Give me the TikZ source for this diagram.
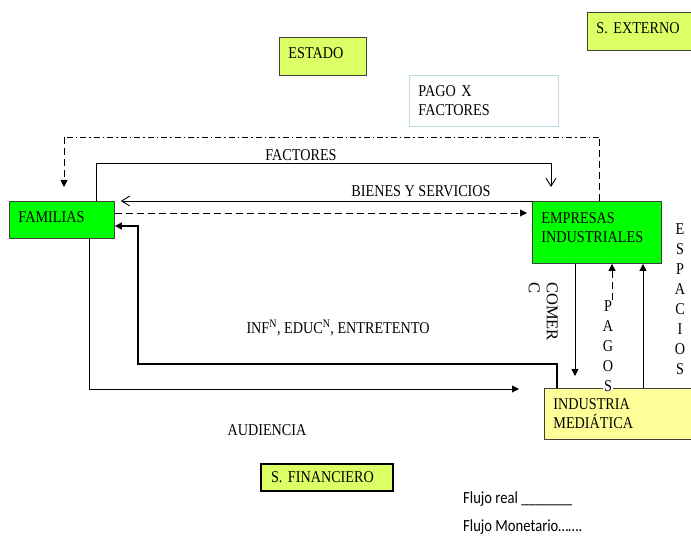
\documentclass[tikz,border=0pt]{standalone}
\usepackage{fontspec}
\setmainfont{Liberation Serif}[FakeStretch=0.86]
\newfontfamily\plainserif{Liberation Serif}
\newfontfamily\legfont{Carlito}[FakeStretch=0.86]
\usetikzlibrary{arrows.meta,calc}
\definecolor{grn}{HTML}{00FF00}
\definecolor{limey}{HTML}{DDFF66}
\definecolor{lyel}{HTML}{FFFF99}
\definecolor{lblue}{HTML}{BFDDE3}
\tikzset{
  every node/.style={font=\fontsize{16.5}{20}\selectfont},
  boxnode/.style={draw=black!75, line width=0.9pt, anchor=north west, inner xsep=9pt, inner ysep=2pt, align=left},
  realline/.style={line width=0.9pt},
  filltip/.style={-{Triangle[length=7pt,width=7pt]}},
  opentip/.style={-{Straight Barb[length=8pt,width=10pt,line width=0.9pt]}},
  dashline/.style={line width=0.9pt, dash pattern=on 7pt off 4pt},
  dashdotline/.style={line width=0.9pt, dash pattern=on 6pt off 3pt on 1.5pt off 3pt},
  stackletters/.style={align=center, inner sep=0pt},
  legendtext/.style={anchor=west, inner sep=0pt, font=\legfont\fontsize{17}{20}\selectfont}
}
\begin{document}
\begin{tikzpicture}[x=1pt,y=-1pt]
\useasboundingbox (0,0) rectangle (691,540);

% boxes
\node[boxnode, fill=grn, text width=87pt, minimum height=37pt] (fam) at (9,201) {FAMILIAS\\[-15pt]\mbox{}};
\node[boxnode, fill=grn, text width=111pt, minimum height=62pt] (emp) at (532,201) {EMPRESAS\\[-1pt]INDUSTRIALES\\[-10pt]\mbox{}};
\node[boxnode, fill=lyel, text width=142pt, minimum height=51pt] (med) at (544,388) {INDUSTRIA\\[-1pt]MEDIÁTICA};
\node[boxnode, fill=limey, text width=69pt, minimum height=38pt] (est) at (279,37) {ESTADO\\[-14pt]\mbox{}};
\node[boxnode, fill=limey, text width=92pt, minimum height=38pt] (ext) at (587,12) {S. EXTERNO\\[-14pt]\mbox{}};
\node[boxnode, draw=black, line width=2pt, fill=limey, inner xsep=10pt, text width=112pt, minimum height=27pt] (fin) at (260,463) {S. FINANCIERO};
\node[boxnode, draw=lblue, fill=white, text width=131pt, minimum height=51pt] (pago) at (409,75) {PAGO X\\[-1pt]FACTORES};

% monetary flow on top (dash-dot)
\coordinate (m1) at (599,137);
\coordinate (m2) at (64,137);
\draw[dashline] (m1 |- emp.north) -- (m1);
\draw[dashdotline] (m1) -- (m2);
\draw[dashline, filltip, shorten >=14pt] (m2) -- (m2 |- fam.north);

% FACTORES
\coordinate (f1) at (96,163);
\coordinate (f2) at (551,163);
\draw[realline, opentip, shorten >=14pt] (fam.north -| f1) -- (f1) -- (f2) -- (f2 |- emp.north);
\node (lfac) at (301,155) {FACTORES};

% BIENES Y SERVICIOS
\draw[realline, opentip, shorten >=6pt] (emp.north west) -- (fam.north east);
\node (lbien) at (421,191) {BIENES Y SERVICIOS};

% dashed monetary fam -> emp
\coordinate (d) at (0,213);
\draw[dashline, filltip, shorten >=5pt] (fam.east |- d) -- (emp.west |- d);

% INF, EDUC, ENTRETENTO
\coordinate (i1) at (557,364);
\coordinate (i2) at (138,364);
\coordinate (i3) at (138,226);
\draw[line width=1.35pt, -{Triangle[length=7pt,width=7pt]}] (med.north -| i1) -- (i1) -- (i2) -- (i3) -- (fam.east |- i3);
\node (linf) at (338,328) {INF\textsuperscript{N}, EDUC\textsuperscript{N}, ENTRETENTO};

% AUDIENCIA
\coordinate (a1) at (89,389);
\coordinate (a2) at (519,389);
\draw[realline, filltip] (fam.south -| a1) -- (a1) -- (a2);
\node (laud) at (267,430) {AUDIENCIA};

% COMERC
\coordinate (c1) at (575,0);
\draw[realline, filltip, shorten >=12pt] (emp.south -| c1) -- (c1 |- med.north);
\node[rotate=-90, anchor=north west, align=left, inner sep=0pt, font=\plainserif\fontsize{16.5}{20}\selectfont] (lcom) at (558,282) {COMER\\[-2pt]C};

% PAGOS
\coordinate (p1) at (612,0);
\draw[dashline, filltip] (med.north -| p1) -- (emp.south -| p1);
\node[stackletters, fill=white] (lpag) at (608,346) {P\\A\\G\\O\\S};

% ESPACIOS
\coordinate (e1) at (643,0);
\draw[realline, filltip] (med.north -| e1) -- (emp.south -| e1);
\node[stackletters] (lesp) at (680,299) {E\\S\\P\\A\\C\\I\\O\\S};

% legend
\node[legendtext] (leg1) at (463,499) {Flujo real \_\_\_\_\_\_\_};
\node[legendtext] (leg2) at (463,527) {Flujo Monetario…….};
\end{tikzpicture}
\end{document}
